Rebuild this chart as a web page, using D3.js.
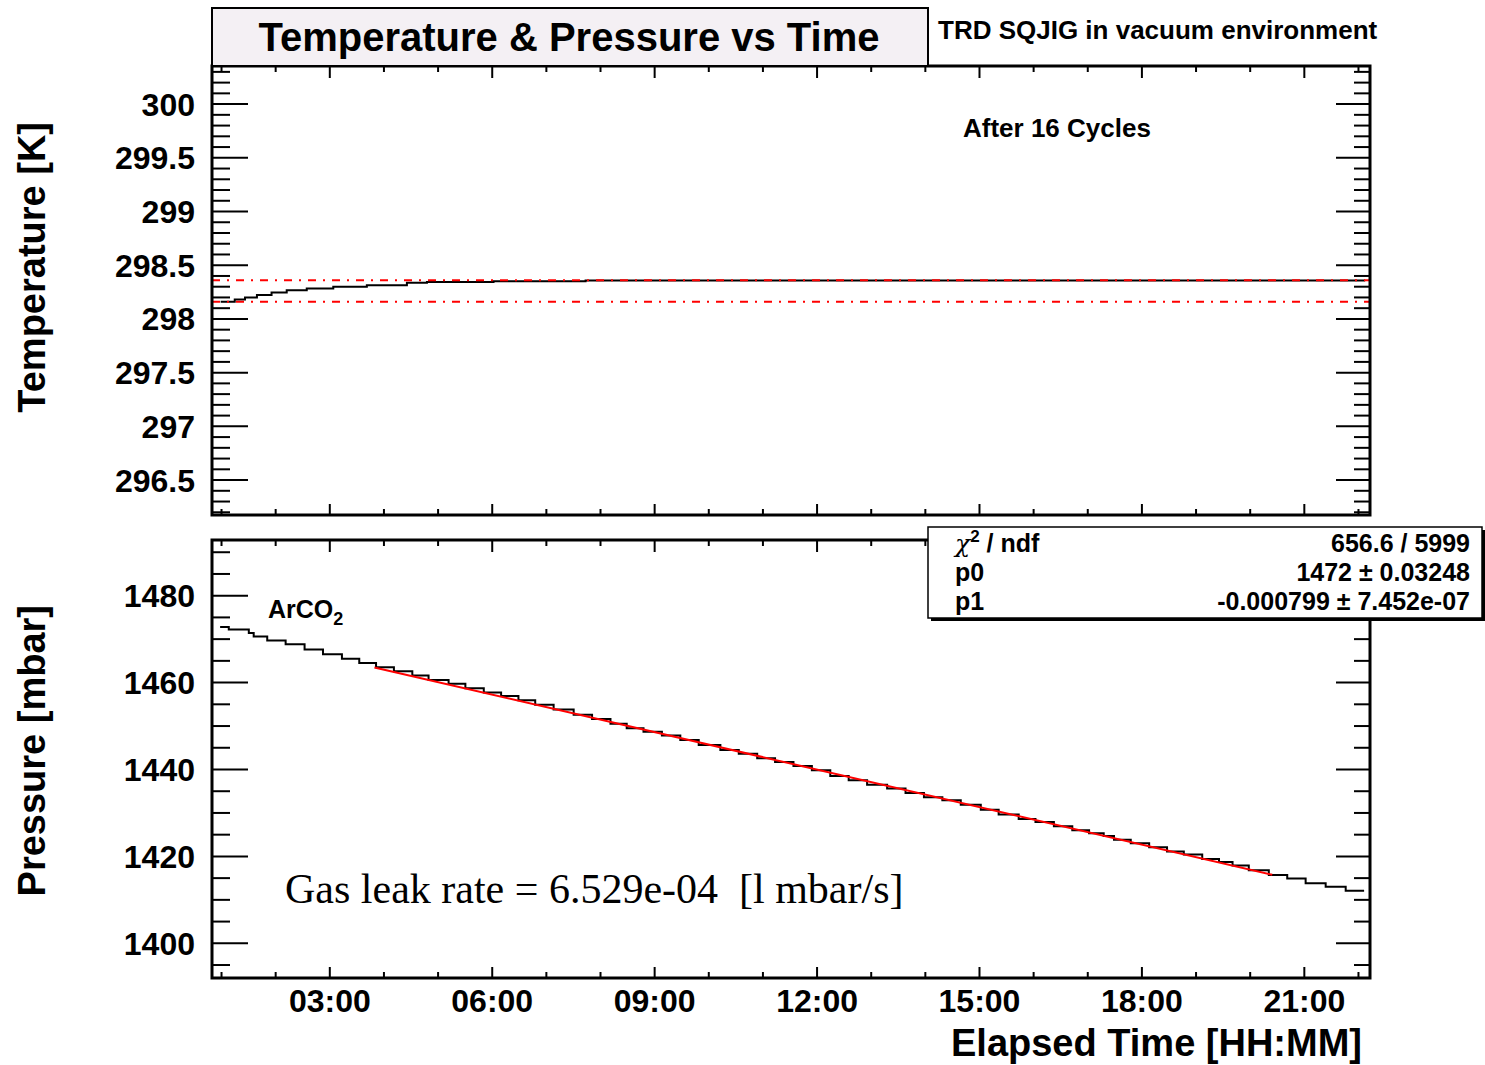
<!DOCTYPE html>
<html>
<head>
<meta charset="utf-8">
<script src="https://cdn.jsdelivr.net/npm/d3@7"></script>
<style>
  html, body { margin: 0; padding: 0; background: #fff; }
  svg text { font-family: "Liberation Sans", Arial, Helvetica, sans-serif; font-weight: bold; fill: #000; }
</style>
</head>
<body>
<svg id="chart" width="1485" height="1065"></svg>
<script>
// ---- data -------------------------------------------------------------
// Elapsed time t is in seconds; the clock shown on the axis is t + clockOffset.
const clockOffset = 3000;
const timeDomain = [0, 77000];

// axis tick positions (clock hours) and their labels
const majorClockHours = [3, 6, 9, 12, 15, 18, 21];
const majorClockLabels = ["03:00", "06:00", "09:00", "12:00", "15:00", "18:00", "21:00"];
const minorClockHours = [1, 2, 4, 5, 7, 8, 10, 11, 13, 14, 16, 17, 19, 20, 22];

// temperature trace: step start (hours of elapsed time) and reading [K]
const tempHours = [0.16, 0.42, 0.61, 0.83, 1.10, 1.38, 1.75, 2.24, 2.86, 3.60, 3.97, 5.20, 6.90, 21.30];
const tempK     = [298.155, 298.177, 298.195, 298.217, 298.242, 298.263, 298.279, 298.294, 298.310, 298.331, 298.340, 298.345, 298.352, 298.352];
const tempBand  = [298.155, 298.356];          // min / max reference lines
const tempTicks = [296.5, 297, 297.5, 298, 298.5, 299, 299.5, 300];
const tempTickLabels = ["296.5", "297", "297.5", "298", "298.5", "299", "299.5", "300"];

// pressure trace: step start (hours of elapsed time) and reading [mbar]
const presHours = [0.15, 0.31, 0.68, 0.77, 1.02, 1.36, 1.71, 2.05, 2.40, 2.72, 3.03, 3.36, 3.70, 4.00,
  4.37, 4.68, 5.02, 5.34, 5.66, 5.97, 6.31, 6.68, 7.02, 7.36, 7.66, 7.97, 8.31, 8.65, 8.99, 9.39,
  9.73, 10.07, 10.40, 10.74, 11.08, 11.42, 11.76, 12.10, 12.47, 12.81, 13.15, 13.49, 13.83, 14.20,
  14.53, 14.90, 15.21, 15.55, 15.89, 16.20, 16.47, 16.66, 16.97, 17.31, 17.64, 17.95, 18.29, 18.60,
  18.85, 19.15, 19.52, 19.86, 20.20, 20.57, 20.94, 21.28];
const presMbar = [1472.7, 1472.1, 1471.3, 1470.5, 1469.6, 1468.7, 1467.5, 1466.4, 1465.4, 1464.4, 1463.4, 1462.5, 1461.5, 1460.5,
  1459.6, 1458.6, 1457.6, 1456.8, 1455.8, 1454.8, 1453.7, 1452.5, 1451.5, 1450.4, 1449.4, 1448.6, 1447.7, 1446.7, 1445.5, 1444.4,
  1443.5, 1442.5, 1441.6, 1440.7, 1439.7, 1438.4, 1437.4, 1436.4, 1435.5, 1434.5, 1433.5, 1432.8, 1431.8, 1430.6,
  1429.5, 1428.5, 1427.8, 1426.8, 1425.9, 1425.2, 1424.6, 1423.7, 1422.9, 1422.0, 1421.0, 1420.3, 1419.3, 1418.6,
  1417.8, 1416.7, 1415.6, 1414.8, 1413.7, 1412.9, 1412.0, 1412.0];
const presTicks = [1400, 1420, 1440, 1460, 1480];
const presTickLabels = ["1400", "1420", "1440", "1460", "1480"];

// linear fit p0 + p1*t over the fit window (seconds)
const fitP0 = 1472;
const fitP1 = -0.000799;
const fitWindow = [10800, 70500];
const statsRows = [
  ["χ2 / ndf", "656.6 / 5999"],
  ["p0", "1472 \u00b1 0.03248"],
  ["p1", "-0.000799 \u00b1 7.452e-07"]
];

// ---- layout -----------------------------------------------------------
const L = 212, R = 1370;
const panelTop = { y0: 66, y1: 515 };
const panelBot = { y0: 540, y1: 978 };
const tickFont = "32px";

const svg = d3.select("#chart");

const x = d3.scaleLinear().domain(timeDomain).range([L, R]);
const yT = d3.scaleLinear().domain([296.17, 300.35]).range([panelTop.y1, panelTop.y0]);
const yP = d3.scaleLinear().domain([1391.9, 1492.7]).range([panelBot.y1, panelBot.y0]);

const clockToT = h => h * 3600 - clockOffset;
const majorT = majorClockHours.map(clockToT);
const minorT = minorClockHours.map(clockToT);

function range(a, b, s) { const r = []; for (let v = a; v <= b + 1e-9; v += s) r.push(+v.toFixed(4)); return r; }
const tempMinor = range(296.2, 300.3, 0.1).filter(v => !tempTicks.some(t => Math.abs(t - v) < 1e-6));
const presMinor = range(1395, 1490, 5).filter(v => !presTicks.includes(v));

function clean(g) { g.select(".domain").remove(); g.selectAll("line").attr("stroke", "#000").attr("stroke-width", 2); }

// ticks for one panel (all pointing inward)
function drawTicks(yScale, panel, majorY, minorY, yLabels, xLabels) {
  // left
  const gl = svg.append("g").attr("transform", `translate(${L},0)`);
  gl.call(d3.axisLeft(yScale).tickValues(majorY).tickSizeInner(-36).tickSizeOuter(0).tickPadding(17)
    .tickFormat((d, i) => yLabels[i]));
  gl.call(clean);
  gl.selectAll("text").style("font-size", tickFont).attr("dy", "0.36em");
  svg.append("g").attr("transform", `translate(${L},0)`)
    .call(d3.axisLeft(yScale).tickValues(minorY).tickSizeInner(-18).tickSizeOuter(0).tickFormat(""))
    .call(clean);
  // right
  svg.append("g").attr("transform", `translate(${R},0)`)
    .call(d3.axisRight(yScale).tickValues(majorY).tickSizeInner(-34).tickSizeOuter(0).tickFormat(""))
    .call(clean);
  svg.append("g").attr("transform", `translate(${R},0)`)
    .call(d3.axisRight(yScale).tickValues(minorY).tickSizeInner(-16).tickSizeOuter(0).tickFormat(""))
    .call(clean);
  // top edge
  svg.append("g").attr("transform", `translate(0,${panel.y0})`)
    .call(d3.axisTop(x).tickValues(majorT).tickSizeInner(-12).tickSizeOuter(0).tickFormat(""))
    .call(clean);
  svg.append("g").attr("transform", `translate(0,${panel.y0})`)
    .call(d3.axisTop(x).tickValues(minorT).tickSizeInner(-6).tickSizeOuter(0).tickFormat(""))
    .call(clean);
  // bottom edge
  const gb = svg.append("g").attr("transform", `translate(0,${panel.y1})`);
  gb.call(d3.axisBottom(x).tickValues(majorT).tickSizeInner(-11).tickSizeOuter(0).tickPadding(11)
    .tickFormat(xLabels ? ((d, i) => xLabels[i]) : ""));
  gb.call(clean);
  gb.selectAll("text").style("font-size", tickFont);
  svg.append("g").attr("transform", `translate(0,${panel.y1})`)
    .call(d3.axisBottom(x).tickValues(minorT).tickSizeInner(-6).tickSizeOuter(0).tickFormat(""))
    .call(clean);
}

// ---- temperature panel -----------------------------------------------
const tempData = tempHours.map((h, i) => ({ t: h * 3600, v: tempK[i] }));
svg.append("path").datum(tempData)
  .attr("fill", "none").attr("stroke", "#000").attr("stroke-width", 2)
  .attr("d", d3.line().curve(d3.curveStepAfter).x(d => x(d.t)).y(d => yT(d.v)));

svg.selectAll(".band").data(tempBand).join("line").attr("class", "band")
  .attr("x1", L).attr("x2", R).attr("y1", d => yT(d)).attr("y2", d => yT(d))
  .attr("stroke", "#ff0000").attr("stroke-width", 2).attr("stroke-dasharray", "8 7 2 7");

drawTicks(yT, panelTop, tempTicks, tempMinor, tempTickLabels, null);

svg.append("rect").attr("x", L).attr("y", panelTop.y0).attr("width", R - L).attr("height", panelTop.y1 - panelTop.y0)
  .attr("fill", "none").attr("stroke", "#000").attr("stroke-width", 3);

// ---- pressure panel ---------------------------------------------------
const presData = presHours.map((h, i) => ({ t: h * 3600, v: presMbar[i] }));
svg.append("path").datum(presData)
  .attr("fill", "none").attr("stroke", "#000").attr("stroke-width", 2)
  .attr("d", d3.line().curve(d3.curveStepAfter).x(d => x(d.t)).y(d => yP(d.v)));

svg.append("line")
  .attr("x1", x(fitWindow[0])).attr("y1", yP(fitP0 + fitP1 * fitWindow[0]))
  .attr("x2", x(fitWindow[1])).attr("y2", yP(fitP0 + fitP1 * fitWindow[1]))
  .attr("stroke", "#ff0000").attr("stroke-width", 2);

drawTicks(yP, panelBot, presTicks, presMinor, presTickLabels, majorClockLabels);

svg.append("rect").attr("x", L).attr("y", panelBot.y0).attr("width", R - L).attr("height", panelBot.y1 - panelBot.y0)
  .attr("fill", "none").attr("stroke", "#000").attr("stroke-width", 3);

// ---- titles and annotations --------------------------------------------
svg.append("rect").attr("x", 212).attr("y", 8).attr("width", 716).attr("height", 58)
  .attr("fill", "#f4f0f4").attr("stroke", "#000").attr("stroke-width", 2);
svg.append("text").attr("x", 569).attr("y", 51).attr("text-anchor", "middle")
  .style("font-size", "40px").text("Temperature & Pressure vs Time");

svg.append("text").attr("x", 938).attr("y", 39).style("font-size", "26px")
  .text("TRD SQJIG in vacuum environment");
svg.append("text").attr("x", 963).attr("y", 137).style("font-size", "26px")
  .text("After 16 Cycles");

svg.append("text").attr("transform", "translate(45,122) rotate(-90)").attr("text-anchor", "end")
  .style("font-size", "38px").text("Temperature [K]");
svg.append("text").attr("transform", "translate(45,605) rotate(-90)").attr("text-anchor", "end")
  .style("font-size", "38px").text("Pressure [mbar]");
svg.append("text").attr("x", 1362).attr("y", 1056).attr("text-anchor", "end")
  .style("font-size", "38px").text("Elapsed Time [HH:MM]");

const arco = svg.append("text").attr("x", 268).attr("y", 618).style("font-size", "25px");
arco.append("tspan").text("ArCO");
arco.append("tspan").attr("dy", 7).style("font-size", "18px").text("2");

svg.append("text").attr("x", 285).attr("y", 903)
  .style("font-family", "'Liberation Serif', 'Times New Roman', serif").style("font-weight", "normal")
  .style("font-size", "42px").style("white-space", "pre")
  .text("Gas leak rate = 6.529e-04  [l mbar/s]");

// ---- fit statistics box -----------------------------------------------
svg.append("rect").attr("x", 931).attr("y", 530).attr("width", 554).attr("height", 91).attr("fill", "#000");
svg.append("rect").attr("x", 928).attr("y", 527).attr("width", 554).attr("height", 91)
  .attr("fill", "#fff").attr("stroke", "#000").attr("stroke-width", 1.5);

const rowY = [552, 581, 610];
statsRows.forEach((r, i) => {
  const lab = svg.append("text").attr("x", 955).attr("y", rowY[i]).style("font-size", "25px");
  if (i === 0) {
    lab.append("tspan").style("font-family", "'DejaVu Serif', serif").style("font-weight", "normal")
      .style("font-style", "italic").text("χ");
    lab.append("tspan").attr("dy", -10).style("font-size", "17px").text("2");
    lab.append("tspan").attr("dy", 10).text(" / ndf");
  } else {
    lab.text(r[0]);
  }
  svg.append("text").attr("x", 1470).attr("y", rowY[i]).attr("text-anchor", "end")
    .style("font-size", "25px").text(r[1]);
});
</script>
</body>
</html>
